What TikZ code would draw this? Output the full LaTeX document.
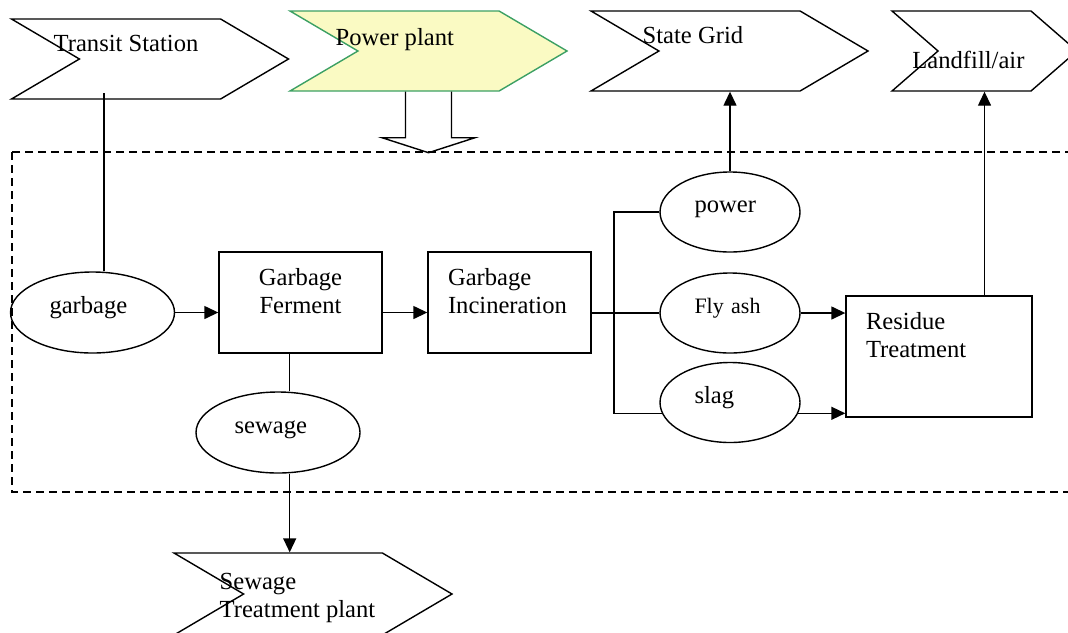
\documentclass[tikz,border=0pt]{standalone}
\usepackage{fontspec}
\setmainfont{Liberation Serif}
\usetikzlibrary{shapes.geometric, shapes.symbols, arrows.meta}

\definecolor{plantfill}{RGB}{250,250,195}
\definecolor{plantline}{RGB}{60,160,100}

\begin{document}
\begin{tikzpicture}[x=0.5pt, y=-0.5pt, line width=0.7pt, >={Triangle[length=7pt, width=6.5pt]},
    every node/.style={font=\fontsize{12.3}{14}\selectfont},
    every label/.style={inner sep=0pt},
    chev/.style={signal, signal from=west, signal to=east, signal pointer angle=61,
      draw, minimum width=138.5pt, minimum height=40pt, inner sep=0pt},
    proc/.style={rectangle, draw, minimum width=81.5pt, minimum height=50.5pt},
    flow/.style={ellipse, draw, minimum width=70pt, minimum height=40pt,
      align=left, text width=35.5pt, text height=8.5pt, text depth=8pt}]

    % 描画範囲
    \clip (0,0) rectangle (1068,632);

    % 外部の施設 (矢羽型)
    \node[chev, label={[anchor=north west, xshift=-48.5pt, yshift=-8pt]north:Transit Station}] (transit) at (150,59) {};
    \node[chev, fill=plantfill, draw=plantline, label={[anchor=north west, xshift=-46.75pt, yshift=-8.6pt]north:Power plant}] (plant) at (428.5,51) {};
    \node[chev, label={[anchor=north west, xshift=-43.75pt, yshift=-7.9pt]north:State Grid}] (grid) at (729.5,51) {};
    \node[chev, signal pointer angle=82, minimum width=92.5pt, label={[anchor=north west, xshift=-36.4pt, yshift=-20.3pt]north:Landfill/air}] (landfill) at (984.5,51) {};
    \node[chev, minimum width=139pt, minimum height=41pt, label={[anchor=north west, xshift=-47pt, yshift=-10.1pt, align=left]north:Sewage\\Treatment plant}] (sewtreat) at (313,594) {};

    % 発電所の範囲 (破線枠)
    \draw[dash pattern=on 4pt off 2.5pt] (12,152) rectangle (1080,492);

    % 発電所からの白抜き矢印
    \draw (plant.south) ++(-23,0) -- ++(0,46) -- ++(-23.5,0) -- ++(46.5,15) -- ++(46.5,-15) -- ++(-23.5,0) -- ++(0,-46);

    % 処理工程
    \node[flow, minimum width=82pt, minimum height=40.5pt, text width=43pt] (garbage) at (92.5,312.5) {garbage};
    \node[proc, label={[anchor=north, yshift=-8pt, align=center]north:Garbage\\Ferment}] (ferment) at (300.5,302.5) {};
    \node[proc, label={[anchor=north west, xshift=10pt, yshift=-8pt, align=left]north west:Garbage\\Incineration}] (incin) at (509.5,302.5) {};
    \node[flow, minimum width=82pt, minimum height=40.5pt, text width=43.4pt] (sewage) at (278,432.5) {sewage};

    % 生成物
    \node[flow] (power) at (730,212) {power};
    \node[flow, font=\fontsize{11}{13}\selectfont] (flyash) at (730,313) {Fly ash};
    \node[flow] (slag) at (730,402.5) {slag};
    \node[proc, minimum width=93pt, minimum height=60.5pt, label={[anchor=north west, xshift=10pt, yshift=-8pt, align=left]north west:Residue\\Treatment}] (residue) at (939,356.5) {};

    % 接続線
    \coordinate (gtop) at ([xshift=5.75pt]garbage.north);
    \coordinate (tbot) at ([yshift=3.5pt]transit.south);
    \draw (gtop) -- (gtop |- tbot);
    \draw[->] (garbage.east) -- (garbage.east -| ferment.west);
    \draw[->] (ferment.east |- garbage.east) -- (incin.west |- garbage.east);

    \coordinate (fbot) at ([xshift=-5.4pt]ferment.south);
    \draw (fbot) -- (fbot |- sewage.north);
    \draw[->] (fbot |- sewage.south) -- (fbot |- sewtreat.north);

    \coordinate (bus) at (614,212);
    \draw (incin.east |- flyash.west) -- (flyash.west);
    \draw (power.west) -- (bus) -- (bus |- slag.189) -- (slag.189);

    \draw[->] (power.north) -- (power.north |- grid.south);
    \draw[->] (flyash.east) -- (flyash.east -| residue.west);
    \draw[->] (slag.-9) -- (slag.-9 -| residue.west);
    \draw[->] (landfill.south |- residue.north) -- (landfill.south);

  \end{tikzpicture}
\end{document}
